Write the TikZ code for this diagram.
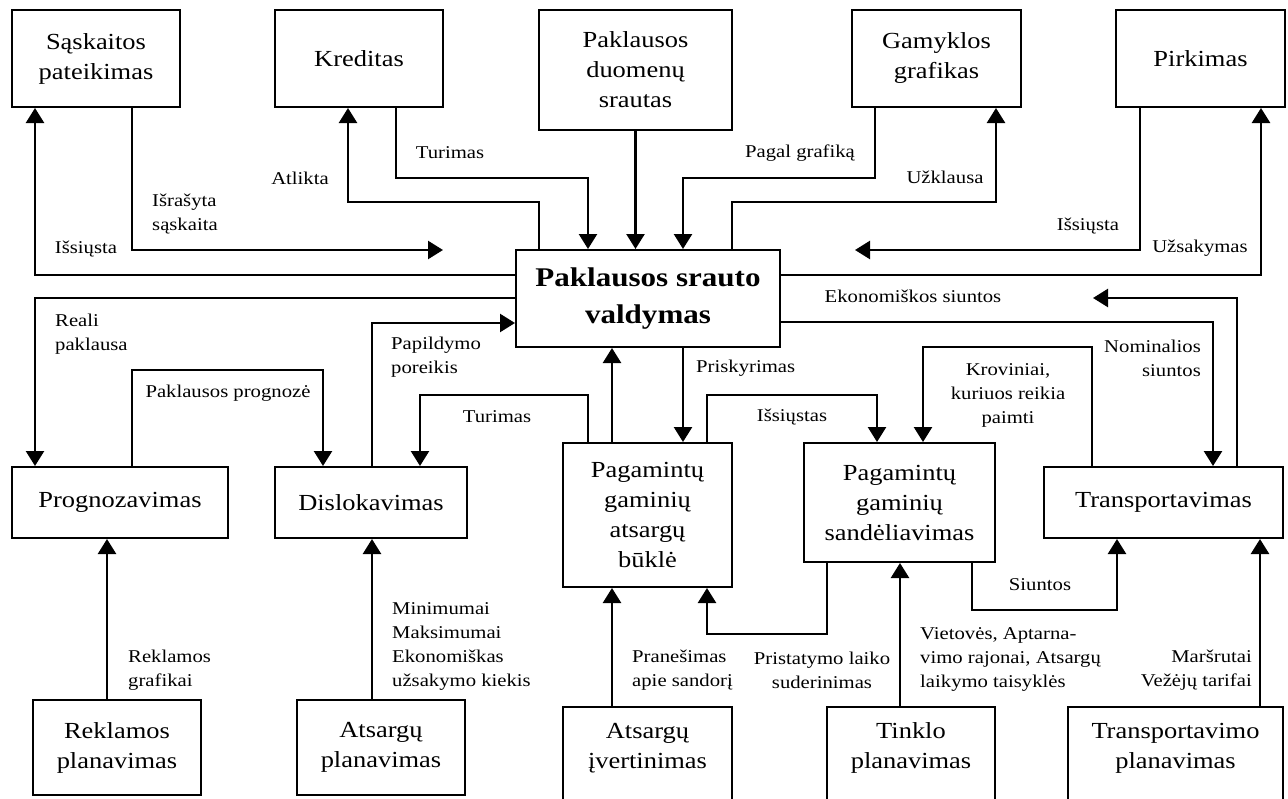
\documentclass[tikz,border=0pt]{standalone}
\usepackage{fontspec}
\setmainfont[FakeStretch=1.15]{Liberation Serif}
\usetikzlibrary{arrows.meta}
\newcommand{\boxtxt}{\fontsize{23}{30}\selectfont}
\newcommand{\lbltxt}{\fontsize{18}{24}\selectfont}
\newcommand{\maintxt}{\fontsize{27}{37}\selectfont\bfseries}
\begin{document}
\begin{tikzpicture}[x=1pt,y=-1pt,
  box/.style={draw, line width=2pt, rectangle, align=center, inner sep=0pt, font=\boxtxt},
  openbox/.style={rectangle, align=center, inner sep=0pt, font=\boxtxt},
  boxline/.style={line width=2pt},
  arr/.style={line width=2.5pt, -{Triangle[length=15pt,width=18pt]}},
  lbl/.style={font=\lbltxt, inner sep=0pt}]
\useasboundingbox (0,0) rectangle (1288,798);
\clip (0,0) rectangle (1288,798);
\fill[white] (0,0) rectangle (1288,798);

% top row
\node[box, minimum width=168pt, minimum height=97pt] (sask) at (96,58.5) {Sąskaitos\\pateikimas};
\node[box, minimum width=168pt, minimum height=97pt] (kred) at (359,58.5) {Kreditas};
\node[box, minimum width=193pt, minimum height=120pt] (pdsr) at (635.5,70) {Paklausos\\duomenų\\srautas};
\node[box, minimum width=169pt, minimum height=97pt] (gam) at (936.5,58.5) {Gamyklos\\grafikas};
\node[box, minimum width=169pt, minimum height=97pt] (pirk) at (1200.5,58.5) {Pirkimas};

% central process
\node[box, font=\maintxt, minimum width=264pt, minimum height=97pt] (psv) at (648,298.5) {Paklausos srauto\\valdymas};

% middle row
\node[box, minimum width=216pt, minimum height=71pt] (prog) at (120,502.5) {Prognozavimas};
\node[box, minimum width=192pt, minimum height=71pt] (disl) at (371,502.5) {Dislokavimas};
\node[box, minimum width=169pt, minimum height=144pt] (bukl) at (647.5,515) {Pagamintų\\gaminių\\atsargų\\būklė};
\node[box, minimum width=191pt, minimum height=119pt] (sand) at (899.5,502.5) {Pagamintų\\gaminių\\sandėliavimas};
\node[box, minimum width=239pt, minimum height=71pt] (tran) at (1163.5,502.5) {Transportavimas};

% bottom row
\node[box, minimum width=168pt, minimum height=95pt] (rekp) at (117,747.5) {Reklamos\\planavimas};
\node[box, minimum width=168pt, minimum height=95pt] (atsp) at (381,747.5) {Atsargų\\planavimas};
\node[openbox, minimum width=169pt, minimum height=82pt] (atsi) at (647.5,748) {Atsargų\\įvertinimas};
\node[openbox, minimum width=168pt, minimum height=82pt] (tink) at (911,748) {Tinklo\\planavimas};
\node[openbox, minimum width=215pt, minimum height=82pt] (trpl) at (1175.5,748) {Transportavimo\\planavimas};
\foreach \n in {atsi,tink,trpl}
  \draw[boxline] (\n.north west |- 0,805) -- (\n.north west) -- (\n.north east) -- (\n.north east |- 0,805);

% free arrow ends
\coordinate (endL) at (443,250);
\coordinate (endR) at (855,250);
\coordinate (endE) at (1093,298);

% connectors around the top row
\draw[arr] (psv.west |- 0,275) -| (35,0 |- sask.south);
\node[lbl] (tIss1) at (86,249) {Išsiųsta};
\draw[arr] (132,0 |- sask.south) |- (endL);
\node[lbl, anchor=west, align=left] (tIsr) at (152,214.5) {Išrašyta\\sąskaita};
\draw[arr] (539,0 |- psv.north) |- (348,202) -- (348,0 |- kred.south);
\node[lbl] (tAtl) at (300,178) {Atlikta};
\draw[arr] (396,0 |- kred.south) |- (588,178) -- (588,0 |- psv.north);
\node[lbl] (tTur1) at (450,153) {Turimas};
\draw[arr] (pdsr.south) -- (pdsr.south |- psv.north);
\draw[arr] (875,0 |- gam.south) |- (683,178) -- (683,0 |- psv.north);
\node[lbl] (tPag) at (800,153) {Pagal grafiką};
\draw[arr] (732,0 |- psv.north) |- (996,202) -- (996,0 |- gam.south);
\node[lbl] (tUzk) at (945,177) {Užklausa};
\draw[arr] (1140,0 |- pirk.south) |- (endR);
\node[lbl] (tIss2) at (1088,226) {Išsiųsta};
\draw[arr] (psv.east |- 0,275) -| (1261,0 |- pirk.south);
\node[lbl] (tUzs) at (1200,248) {Užsakymas};

% connectors around the middle row
\draw[arr] (psv.west |- 0,298) -| (35,0 |- prog.north);
\node[lbl, anchor=west, align=left] (tReal) at (55,334) {Reali\\paklausa};
\draw[arr] (372,0 |- disl.north) |- (psv.west |- 0,323);
\node[lbl, anchor=west, align=left] (tPap) at (391,357) {Papildymo\\poreikis};
\draw[arr] (132,0 |- prog.north) |- (323,370) -- (323,0 |- disl.north);
\node[lbl] (tProg) at (228,393) {Paklausos prognozė};
\draw[arr] (588,0 |- bukl.north) |- (420,395) -- (420,0 |- disl.north);
\node[lbl] (tTur2) at (497,417) {Turimas};
\draw[arr] (612,0 |- bukl.north) -- (612,0 |- psv.south);
\draw[arr] (683,0 |- psv.south) -- (683,0 |- bukl.north);
\node[lbl, anchor=west] (tPris) at (696,368) {Priskyrimas};
\draw[arr] (707,0 |- bukl.north) |- (877,395) -- (877,0 |- sand.north);
\node[lbl] (tIss3) at (792,417) {Išsiųstas};
\draw[arr] (1092,0 |- tran.north) |- (923,347) -- (923,0 |- sand.north);
\node[lbl, align=center] (tKrov) at (1008,395) {Kroviniai,\\kuriuos reikia\\paimti};
\draw[arr] (psv.east |- 0,322) -| (1213,0 |- tran.north);
\node[lbl, anchor=east, align=right] (tNom) at (1201,358) {Nominalios\\siuntos};
\draw[arr] (1237,0 |- tran.north) |- (endE);
\node[lbl] (tEko) at (913,296) {Ekonomiškos siuntos};

% connectors from the bottom row
\draw[arr] (107,0 |- rekp.north) -- (107,0 |- prog.south);
\node[lbl, anchor=west, align=left] (tRek) at (128,670) {Reklamos\\grafikai};
\draw[arr] (372,0 |- atsp.north) -- (372,0 |- disl.south);
\node[lbl, anchor=west, align=left] (tMin) at (392,646.5) {Minimumai\\Maksimumai\\Ekonomiškas\\užsakymo kiekis};
\draw[arr] (612,0 |- atsi.north) -- (612,0 |- bukl.south);
\node[lbl, anchor=west, align=left] (tPran) at (632,670) {Pranešimas\\apie sandorį};
\draw[arr] (827,0 |- sand.south) |- (707,634) -- (707,0 |- bukl.south);
\node[lbl, align=center] (tPrist) at (822,670) {Pristatymo laiko\\suderinimas};
\draw[arr] (900,0 |- tink.north) -- (900,0 |- sand.south);
\node[lbl, anchor=west, align=left] (tViet) at (920,659) {Vietovės, Aptarna-\\vimo rajonai, Atsargų\\laikymo taisyklės};
\draw[arr] (972,0 |- sand.south) |- (1117,610) -- (1117,0 |- tran.south);
\node[lbl] (tSiun) at (1040,585) {Siuntos};
\draw[arr] (1260,0 |- trpl.north) -- (1260,0 |- tran.south);
\node[lbl, anchor=east, align=right] (tMar) at (1252,670) {Maršrutai\\Vežėjų tarifai};
\end{tikzpicture}
\end{document}
